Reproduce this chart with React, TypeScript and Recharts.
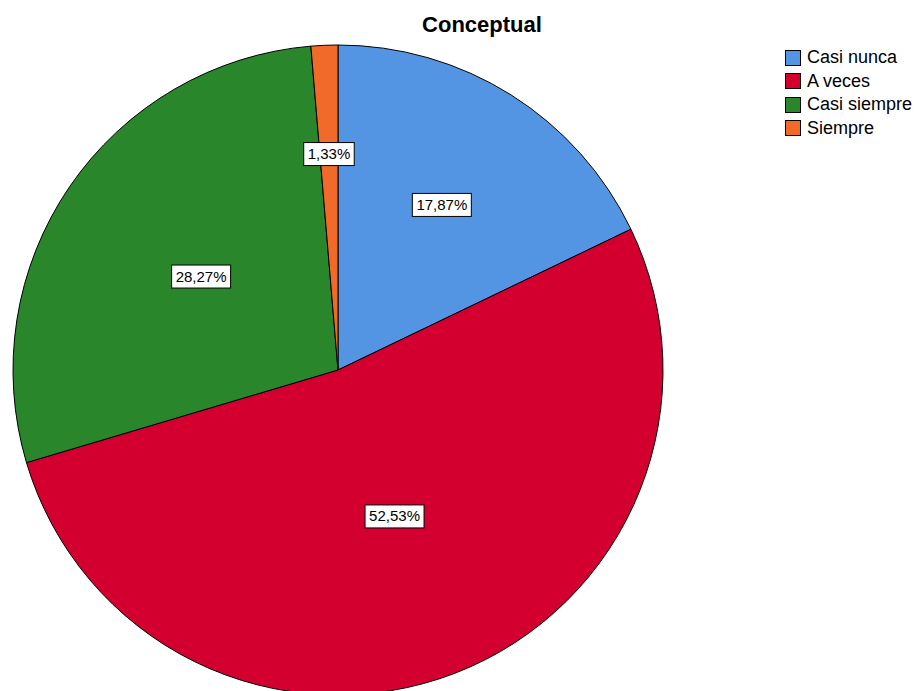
import React from 'react';
import { PieChart, Pie, Cell, Legend } from 'recharts';

const categories = ['Casi nunca', 'A veces', 'Casi siempre', 'Siempre'];
const percents = [17.87, 52.53, 28.27, 1.33];
const colors = ['#5495e3', '#d3002f', '#2a862a', '#f26a2a'];

// how far along the radius each label box sits (SPSS-ish placement)
const labelRadius = [0.6, 0.483, 0.51, 0.665];

const data = categories.map((name, i) => ({ name, value: percents[i] }));

const FONT = '"Liberation Sans", Arial, sans-serif';

const renderLabel = (props: any) => {
  const { cx, cy, midAngle, outerRadius, index, value } = props;
  const RAD = Math.PI / 180;
  const r = outerRadius * labelRadius[index];
  const x = cx + r * Math.cos(-midAngle * RAD);
  const y = cy + r * Math.sin(-midAngle * RAD);
  const text = value.toFixed(2).replace('.', ',') + '%';
  const w = text.length * 8.5 + 8;
  const h = 23;
  return (
    <g>
      <rect x={x - w / 2} y={y - h / 2} width={w} height={h} fill="#fff" stroke="#000" strokeWidth={1} />
      <text x={x} y={y + 5} textAnchor="middle" fontSize={15} fontFamily={FONT} fill="#000">
        {text}
      </text>
    </g>
  );
};

const renderLegend = () => (
  <div style={{ fontFamily: FONT, fontSize: 18, color: '#000' }}>
    {categories.map((c, i) => (
      <div key={c} style={{ display: 'flex', alignItems: 'center', height: 23.5 }}>
        <span
          style={{
            display: 'inline-block',
            width: 16,
            height: 16,
            background: colors[i],
            border: '1px solid #000',
            boxSizing: 'border-box',
            marginRight: 6,
          }}
        />
        <span>{c}</span>
      </div>
    ))}
  </div>
);

const App: React.FC = () => {
  return (
    <div style={{ position: 'absolute', left: 0, top: 0, width: 917, height: 691, background: '#fff', overflow: 'hidden' }}>
      <div
        style={{
          position: 'absolute',
          left: 0,
          width: 964,
          top: 12,
          textAlign: 'center',
          fontFamily: FONT,
          fontWeight: 'bold',
          fontSize: 22,
          color: '#000',
          zIndex: 2,
        }}
      >
        Conceptual
      </div>
      <PieChart width={917} height={691} margin={{ top: 0, right: 0, bottom: 0, left: 0 }}>
        <Pie
          data={data}
          dataKey="value"
          nameKey="name"
          cx={338}
          cy={370}
          outerRadius={325}
          startAngle={90}
          endAngle={-270}
          stroke="#000"
          strokeWidth={1}
          label={renderLabel}
          labelLine={false}
          isAnimationActive={false}
        >
          {data.map((d, i) => (
            <Cell key={d.name} fill={colors[i]} />
          ))}
        </Pie>
        <Legend
          content={renderLegend}
          layout="vertical"
          verticalAlign="top"
          align="right"
          wrapperStyle={{ position: 'absolute', left: 785, top: 46, width: 132 }}
        />
      </PieChart>
    </div>
  );
};

export default App;
